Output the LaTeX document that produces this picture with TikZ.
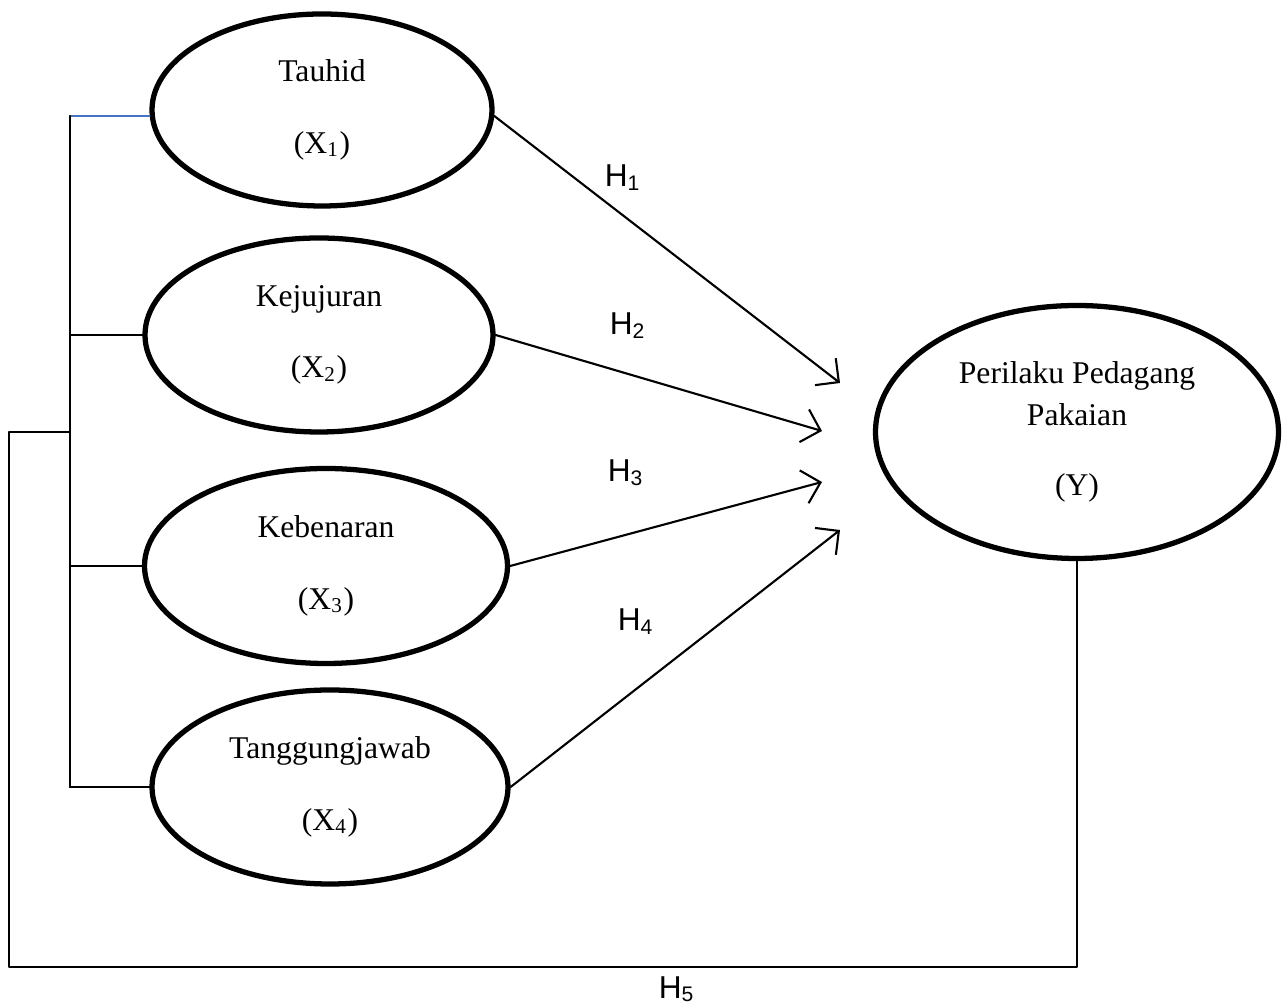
\documentclass[tikz,border=0pt]{standalone}
\usepackage{fontspec}
\setmainfont{Liberation Serif}
\newfontfamily\hfont{Liberation Sans}
\usetikzlibrary{shapes.geometric,arrows.meta}
\definecolor{linkblue}{RGB}{68,114,196}
\tikzset{
	var/.style={ellipse,draw,line width=1.5pt,inner sep=0pt,align=center,font=\fontsize{9}{11}\selectfont},
	hyp/.style={line width=0.6pt,-{Straight Barb[length=0.17cm,width=0.34cm,line width=0.6pt]}},
	hlbl/.style={anchor=base,inner sep=0pt,font=\hfont\fontsize{9}{11}\selectfont}
}
\begin{document}
\begin{tikzpicture}[line cap=round,line join=round,x=1.0cm,y=1.0cm]
		\useasboundingbox (0,0) rectangle (12.88,-10.03);
		% variables
		\node[var,minimum width=3.40cm,minimum height=1.92cm] (tauhid) at (3.22,-1.10) {Tauhid\\[0.33cm](X\textsubscript{1})};
		\node[var,minimum width=3.48cm,minimum height=1.94cm] (jujur) at (3.19,-3.35) {Kejujuran\\[0.33cm](X\textsubscript{2})};
		\node[var,minimum width=3.63cm,minimum height=1.95cm] (benar) at (3.26,-5.66) {Kebenaran\\[0.33cm](X\textsubscript{3})};
		\node[var,minimum width=3.56cm,minimum height=1.94cm] (jawab) at (3.30,-7.87) {Tanggungjawab\\[0.33cm](X\textsubscript{4})};
		\node[var,minimum width=4.03cm,minimum height=2.53cm] (Y) at (10.77,-4.32) {Perilaku Pedagang\\[0.03cm]Pakaian\\[0.31cm](Y)};
		% arrow ends
		\coordinate (t1) at (8.40,-3.83);
		\coordinate (t2) at (8.22,-4.31);
		\coordinate (t3) at (8.22,-4.82);
		\coordinate (t4) at (8.40,-5.30);
		\draw [hyp] (tauhid.-2) -- (t1);
		\draw [hyp] (jujur.east) -- (t2);
		\draw [hyp] (benar.east) -- (t3);
		\draw [hyp] (jawab.east) -- (t4);
		% left bracket
		\coordinate (sp) at (0.70,-4.32);
		\coordinate (lo) at (0.09,-9.67);
		\draw [line width=0.6pt,color=linkblue] (tauhid.182) -- (tauhid.182 -| sp);
		\draw [line width=0.6pt] (tauhid.182 -| sp) -- (jawab.west -| sp);
		\draw [line width=0.6pt] (jujur.west) -- (jujur.west -| sp);
		\draw [line width=0.6pt] (benar.west) -- (benar.west -| sp);
		\draw [line width=0.6pt] (jawab.west) -- (jawab.west -| sp);
		\draw [line width=0.6pt] (sp) -- (sp -| lo) -- (lo) -- (lo -| Y.south) -- (Y.south);
		% labels
		\node[hlbl] (h1) at (6.23,-1.87) {H\textsubscript{1}};
		\node[hlbl] (h2) at (6.28,-3.35) {H\textsubscript{2}};
		\node[hlbl] (h3) at (6.26,-4.82) {H\textsubscript{3}};
		\node[hlbl] (h4) at (6.36,-6.31) {H\textsubscript{4}};
		\node[hlbl] (h5) at (6.77,-9.98) {H\textsubscript{5}};
	\end{tikzpicture}
\end{document}
